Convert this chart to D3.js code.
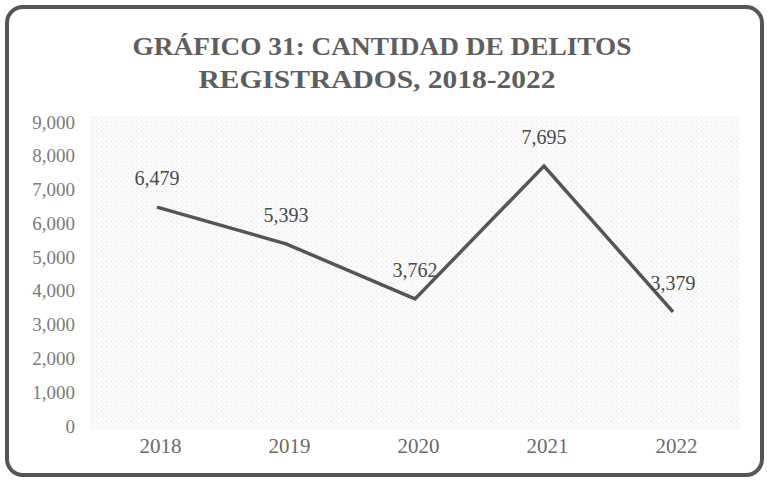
<!DOCTYPE html>
<html>
<head>
<meta charset="utf-8">
<script src="https://cdn.jsdelivr.net/npm/d3@7"></script>
<style>
  body { margin: 0; background: #fff; }
  svg text { font-family: "Liberation Serif", "DejaVu Serif", serif; }
</style>
</head>
<body>
<div id="chart"></div>
<script>
// --- Data ---
const years = ["2018", "2019", "2020", "2021", "2022"];
const delitos = [6479, 5393, 3762, 7695, 3379];
const yTicks = [0, 1000, 2000, 3000, 4000, 5000, 6000, 7000, 8000, 9000];
const titleLines = ["GRÁFICO 31: CANTIDAD DE DELITOS", "REGISTRADOS, 2018-2022"];

const width = 767, height = 484;
const plot = { left: 90, right: 740, top: 116, bottom: 430 };

const svg = d3.select("#chart").append("svg")
    .attr("width", width)
    .attr("height", height);

// plot background (faint scan texture)
const defs = svg.append("defs");
const pat = defs.append("pattern")
    .attr("id", "dots")
    .attr("width", 5).attr("height", 5)
    .attr("patternUnits", "userSpaceOnUse");
pat.append("rect").attr("width", 5).attr("height", 5).attr("fill", "#fafafa");
pat.append("rect").attr("x", 1).attr("y", 1).attr("width", 1).attr("height", 1).attr("fill", "#e2e2e2");
pat.append("rect").attr("x", 3).attr("y", 3).attr("width", 1).attr("height", 1).attr("fill", "#ececec");

svg.append("rect")
    .attr("x", plot.left).attr("y", plot.top)
    .attr("width", plot.right - plot.left)
    .attr("height", plot.bottom - plot.top)
    .attr("fill", "url(#dots)");

// outer frame
svg.append("rect")
    .attr("x", 7).attr("y", 7)
    .attr("width", 755).attr("height", 468)
    .attr("rx", 16).attr("ry", 16)
    .attr("fill", "none")
    .attr("stroke", "#555")
    .attr("stroke-width", 4);

// title
const titleLen = [499, 357];
svg.append("g")
    .selectAll("text")
    .data(titleLines)
    .join("text")
    .attr("x", (d, i) => i === 0 ? 382 : 377)
    .attr("y", (d, i) => 55 + i * 33)
    .attr("text-anchor", "middle")
    .attr("font-weight", "bold")
    .attr("font-size", 26)
    .attr("fill", "#5e5e5e")
    .attr("textLength", (d, i) => titleLen[i])
    .attr("lengthAdjust", "spacingAndGlyphs")
    .text(d => d);

// scales
const x = d3.scalePoint()
    .domain(years)
    .range([157, 673]);

const y = d3.scaleLinear()
    .domain([0, 9000])
    .range([426, 122]);

const fmt = d3.format(",");

// y axis labels
const yAxis = d3.axisLeft(y)
    .tickValues(yTicks)
    .tickFormat(fmt)
    .tickSize(0)
    .tickPadding(0);

svg.append("g")
    .attr("transform", "translate(75,0)")
    .call(yAxis)
    .call(g => g.select(".domain").remove())
    .call(g => g.selectAll("text")
        .attr("font-family", "Liberation Serif, serif")
        .attr("font-size", 19)
        .attr("fill", "#7a7a7a"));

// x axis labels
const xAxis = d3.axisBottom(x).tickSize(0).tickPadding(0);
svg.append("g")
    .attr("transform", "translate(3,438)")
    .call(xAxis)
    .call(g => g.select(".domain").remove())
    .call(g => g.selectAll("text")
        .attr("font-family", "Liberation Serif, serif")
        .attr("font-size", 21)
        .attr("fill", "#6a6a6a"));

// line
const line = d3.line()
    .x((d, i) => x(years[i]))
    .y(d => y(d));

svg.append("path")
    .datum(delitos)
    .attr("d", line)
    .attr("fill", "none")
    .attr("stroke", "#555")
    .attr("stroke-width", 3.5)
    .attr("stroke-linejoin", "miter");

// data labels
svg.append("g")
    .selectAll("text")
    .data(delitos)
    .join("text")
    .attr("x", (d, i) => x(years[i]))
    .attr("y", d => y(d) - 22)
    .attr("text-anchor", "middle")
    .attr("font-size", 20)
    .attr("fill", "#4a4a4a")
    .text(d => fmt(d));
</script>
</body>
</html>
